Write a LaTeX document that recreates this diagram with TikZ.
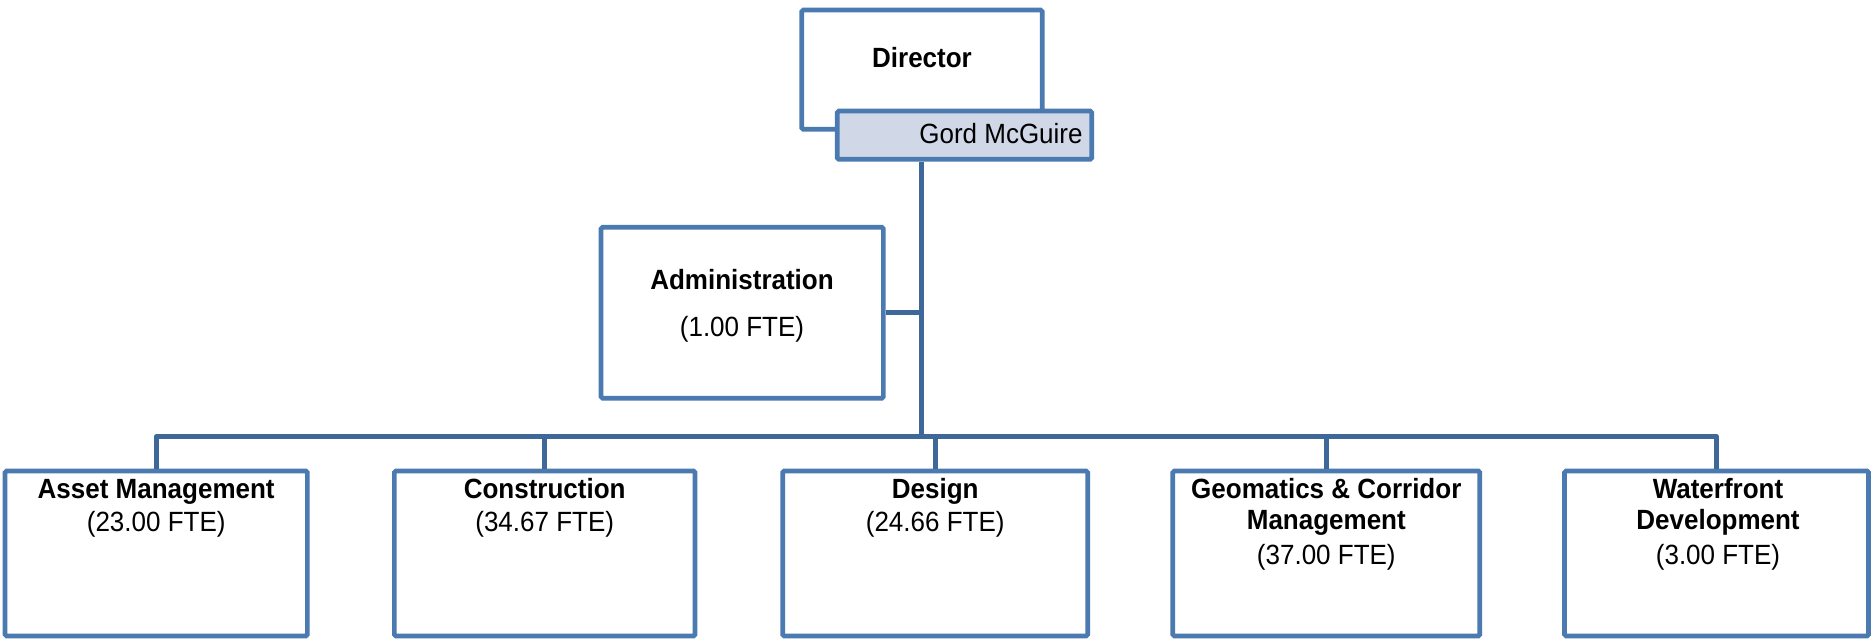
\documentclass[tikz,border=0pt]{standalone}
\usepackage{graphicx}
\usepackage{fontspec}
\setmainfont{Liberation Sans}
\definecolor{boxline}{HTML}{4A7AB0}
\definecolor{linkline}{HTML}{3E679A}
\definecolor{namefill}{HTML}{D0D8E8}
% slightly tall lettering
\newcommand{\tallface}[1]{\scalebox{1}[1.07]{#1}}
\begin{document}
\begin{tikzpicture}[x=0.5pt,y=-0.5pt,
  unitbox/.style={draw=boxline, fill=white, line width=2.35pt, rounded corners=0.8pt,
                  rectangle, inner sep=0pt},
  namebox/.style={unitbox, fill=namefill},
  link/.style={draw=linkline, line width=2.35pt},
  title/.style={font=\fontsize{13pt}{15pt}\selectfont\bfseries, inner sep=0pt, anchor=base},
  detail/.style={font=\fontsize{13pt}{15pt}\selectfont, inner sep=0pt, anchor=base}]
\useasboundingbox (0,0) rectangle (1872,640);

% top of the chart
\node[unitbox, minimum width=120.3pt, minimum height=59.65pt] (director) at (922,69.7) {};
\node[namebox, minimum width=127.2pt, minimum height=24.15pt] (gord) at (964.5,135.2) {};
\node[title] (directorT) at (922,68) {\tallface{Director}};
\node[detail, anchor=base east] (gordT) at (1083,143.3) {\tallface{Gord McGuire}};

% staff unit reporting directly to the director
\node[unitbox, minimum width=141.15pt, minimum height=85.5pt] (admin) at (742.2,312.8) {};
\node[title] (adminT) at (742,290) {\tallface{Administration}};
\node[detail] (adminF) at (742,336.7) {\tallface{(1.00 FTE)}};

% sections
\node[unitbox, minimum width=151.15pt, minimum height=82.5pt] (asset) at (156.2,553.5) {};
\node[unitbox, minimum width=150.35pt, minimum height=82.5pt] (constr) at (544.7,553.5) {};
\node[unitbox, minimum width=152.5pt, minimum height=82.5pt] (design) at (935.2,553.5) {};
\node[unitbox, minimum width=153.5pt, minimum height=82.5pt] (geo) at (1326.3,553.5) {};
\node[unitbox, minimum width=152pt, minimum height=82.5pt] (water) at (1716.5,553.5) {};

\node[title] (assetT) at (156.2,498) {\tallface{Asset Management}};
\node[detail] (assetF) at (156.2,531.5) {\tallface{(23.00 FTE)}};
\node[title] (constrT) at (544.7,498) {\tallface{Construction}};
\node[detail] (constrF) at (544.7,531.5) {\tallface{(34.67 FTE)}};
\node[title] (designT) at (935.2,498) {\tallface{Design}};
\node[detail] (designF) at (935.2,531.5) {\tallface{(24.66 FTE)}};
\node[title] (geoT) at (1326.3,498) {\tallface{Geomatics \& Corridor}};
\node[title] (geoT2) at (1326.3,530) {\tallface{Management}};
\node[detail] (geoF) at (1326.3,564) {\tallface{(37.00 FTE)}};
\node[title] (waterT) at (1718,498) {\tallface{Waterfront}};
\node[title] (waterT2) at (1718,530) {\tallface{Development}};
\node[detail] (waterF) at (1718,564) {\tallface{(3.00 FTE)}};

% reporting lines
\coordinate (hub) at (921.7,436.7);
\draw[link] (gord.south -| hub) -- (hub);
\draw[link] (admin.east) -- (admin.east -| hub);
\draw[link, line join=round] (hub) -| (asset.north);
\draw[link] (hub) -| (constr.north);
\draw[link] (hub) -| (design.north);
\draw[link] (hub) -| (geo.north);
\draw[link, line join=round] (hub) -| (water.north);
\end{tikzpicture}
\end{document}
